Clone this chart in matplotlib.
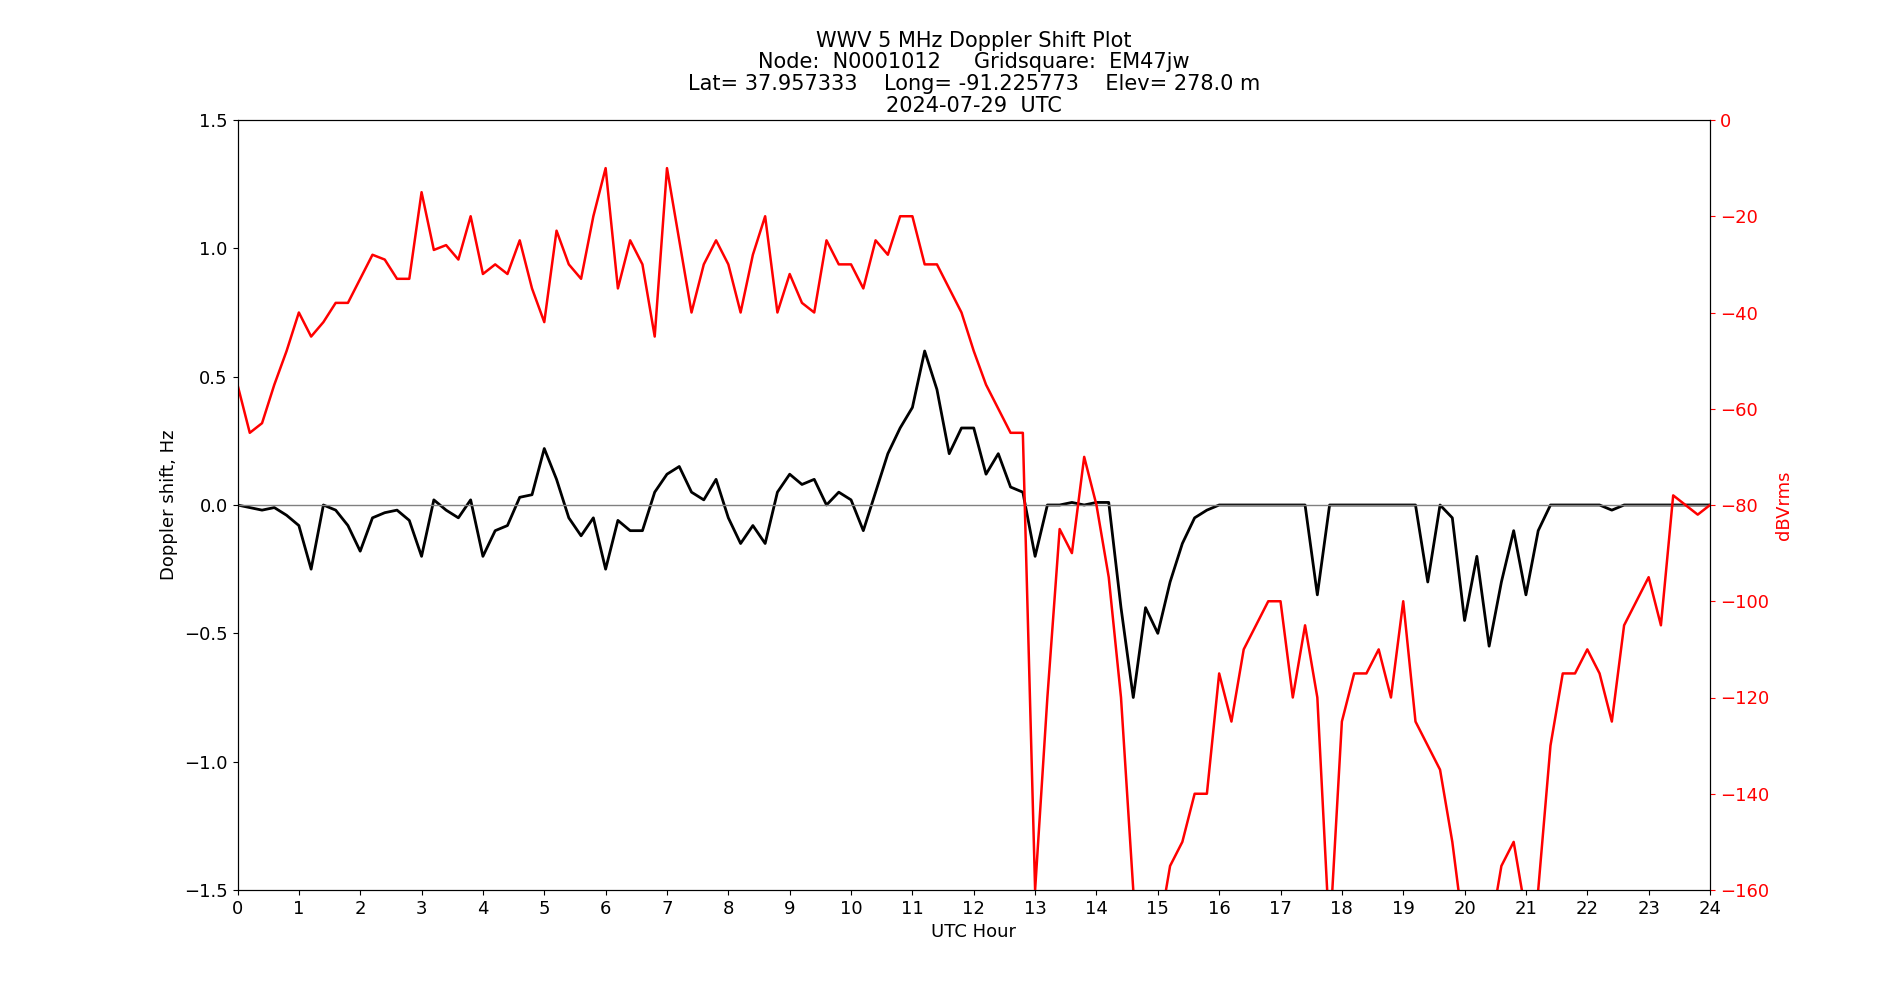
import matplotlib
matplotlib.use("Agg")
import matplotlib.pyplot as plt

hours = [round(i * 0.2, 1) for i in range(121)]

doppler = [0.0, -0.01, -0.02, -0.01, -0.04, -0.08, -0.25, 0.0, -0.02, -0.08,
           -0.18, -0.05, -0.03, -0.02, -0.06, -0.2, 0.02, -0.02, -0.05, 0.02,
           -0.2, -0.1, -0.08, 0.03, 0.04, 0.22, 0.1, -0.05, -0.12, -0.05,
           -0.25, -0.06, -0.1, -0.1, 0.05, 0.12, 0.15, 0.05, 0.02, 0.1,
           -0.05, -0.15, -0.08, -0.15, 0.05, 0.12, 0.08, 0.1, 0.0, 0.05,
           0.02, -0.1, 0.05, 0.2, 0.3, 0.38, 0.6, 0.45, 0.2, 0.3,
           0.3, 0.12, 0.2, 0.07, 0.05, -0.2, 0.0, 0.0, 0.01, 0.0,
           0.01, 0.01, -0.4, -0.75, -0.4, -0.5, -0.3, -0.15, -0.05, -0.02,
           0.0, 0.0, 0.0, 0.0, 0.0, 0.0, 0.0, 0.0, -0.35, 0.0,
           0.0, 0.0, 0.0, 0.0, 0.0, 0.0, 0.0, -0.3, 0.0, -0.05,
           -0.45, -0.2, -0.55, -0.3, -0.1, -0.35, -0.1, 0.0, 0.0, 0.0,
           0.0, 0.0, -0.02, 0.0, 0.0, 0.0, 0.0, 0.0, 0.0, 0.0, 0.0]

power = [-55, -65, -63, -55, -48, -40, -45, -42, -38, -38,
         -33, -28, -29, -33, -33, -15, -27, -26, -29, -20,
         -32, -30, -32, -25, -35, -42, -23, -30, -33, -20,
         -10, -35, -25, -30, -45, -10, -25, -40, -30, -25,
         -30, -40, -28, -20, -40, -32, -38, -40, -25, -30,
         -30, -35, -25, -28, -20, -20, -30, -30, -35, -40,
         -48, -55, -60, -65, -65, -160, -120, -85, -90, -70,
         -80, -95, -120, -160, -170, -170, -155, -150, -140, -140,
         -115, -125, -110, -105, -100, -100, -120, -105, -120, -170,
         -125, -115, -115, -110, -120, -100, -125, -130, -135, -150,
         -170, -170, -170, -155, -150, -165, -160, -130, -115, -115,
         -110, -115, -125, -105, -100, -95, -105, -78, -80, -82, -80]

fig, ax = plt.subplots(figsize=(19, 10), dpi=100)
ax.plot(hours, doppler, color="black", linewidth=2)
ax.axhline(0, color="gray", linewidth=1)
ax.set_xlim(0, 24)
ax.set_ylim(-1.5, 1.5)
ax.set_xticks(range(25))
ax.set_xlabel("UTC Hour", fontsize=13)
ax.set_ylabel("Doppler shift, Hz", fontsize=13)
ax.tick_params(labelsize=13)

ax2 = ax.twinx()
ax2.plot(hours, power, color="red", linewidth=1.8)
ax2.set_ylim(-160, 0)
ax2.set_ylabel("dBVrms", color="red", fontsize=13)
ax2.tick_params(axis="y", colors="red", labelsize=13)

ax.set_title("WWV 5 MHz Doppler Shift Plot\n"
             "Node:  N0001012     Gridsquare:  EM47jw\n"
             "Lat= 37.957333    Long= -91.225773    Elev= 278.0 m\n"
             "2024-07-29  UTC", fontsize=15, linespacing=1.1)

fig.savefig("out.png")
